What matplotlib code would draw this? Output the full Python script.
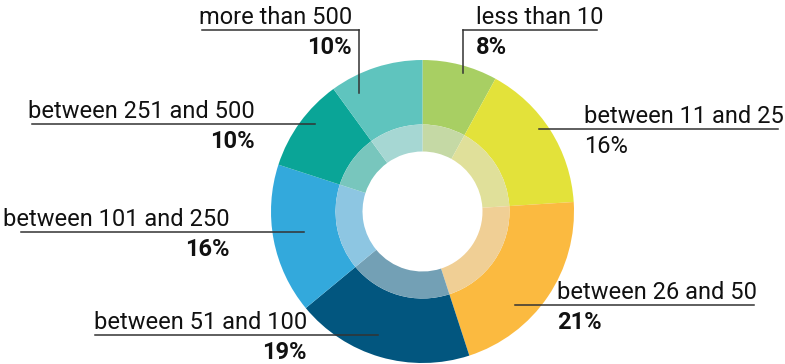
import matplotlib.pyplot as plt

plt.rcParams['font.family'] = ['Roboto', 'DejaVu Sans']

# data
categorias = ['less than 10', 'between 11 and 25', 'between 26 and 50',
              'between 51 and 100', 'between 101 and 250',
              'between 251 and 500', 'more than 500']
porcentajes = [8, 16, 21, 19, 16, 10, 10]
negrita = [True, False, True, True, True, True, True]
colores = ['#a8cf63', '#e3e23a', '#fbba40', '#02567f', '#33a9dc',
           '#0aa597', '#5fc4be']
claros = ['#c5d9a5', '#e0e09a', '#f0cf95', '#73a0b5', '#8dc6e2',
          '#78c6bd', '#a6d7d3']

W, H = 785, 364
fig = plt.figure(figsize=(W / 100, H / 100), dpi=100)
ax = fig.add_axes([0, 0, 1, 1])

cx, cy = 422.5, H - 211.5
r_ext, r_med, r_int = 151.5, 87, 60

# anillo exterior
ax.pie(porcentajes, colors=colores, startangle=90, counterclock=False,
       radius=r_ext, center=(cx, cy), frame=True,
       wedgeprops=dict(width=r_ext - r_med, linewidth=0))
# anillo interior mas claro
ax.pie(porcentajes, colors=claros, startangle=90, counterclock=False,
       radius=r_med, center=(cx, cy), frame=True,
       wedgeprops=dict(width=r_med - r_int, linewidth=0))
ax.set_xlim(0, W)
ax.set_ylim(0, H)
ax.set_aspect('equal')
ax.axis('off')

# etiquetas: (x linea ini, x linea fin, y linea, x texto, alineacion, vertical (x, y fin))
etiquetas = [
    (463, 597, 30, 476, 'left', (463, 73)),
    (539, 778, 129, 584, 'left', None),
    (515, 754, 305, 557, 'left', None),
    (95, 378, 335, 307, 'right', None),
    (21, 304, 232, 230, 'right', None),
    (32, 315, 124, 255, 'right', None),
    (202, 359, 30, 352, 'right', (359, 93)),
]

for cat, p, b, (x0, x1, yl, xt, ha, vert) in zip(categorias, porcentajes, negrita, etiquetas):
    ax.plot([x0, x1], [H - yl, H - yl], color='#333333', lw=1.1)
    if vert is not None:
        ax.plot([vert[0], vert[0]], [H - yl, H - vert[1]], color='#333333', lw=1.1)
    ax.text(xt, H - yl + 6, cat, ha=ha, va='baseline', fontsize=17, color='#111111')
    ax.text(xt, H - yl - 6, f'{p}%', ha=ha, va='top', fontsize=17, color='#111111',
            fontweight='bold' if b else 'normal')

fig.savefig('out.png', dpi=100)
